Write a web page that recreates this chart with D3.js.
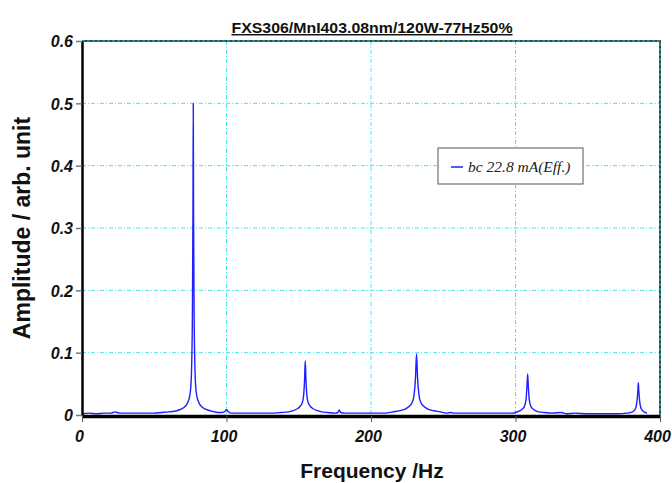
<!DOCTYPE html>
<html>
<head>
<meta charset="utf-8">
<script src="https://cdn.jsdelivr.net/npm/d3@7"></script>
<style>
  body { margin: 0; background: #fff; }
  svg { display: block; }
</style>
</head>
<body>
<div id="chart"></div>
<script>
var freqHz = [0, 5, 10, 15, 20, 23, 26, 30, 35, 40, 45, 50, 55, 60, 64, 67, 69, 71, 72.5, 73.5, 74.5, 75.3, 75.9, 76.4, 76.8,
  77.0, 77.2, 77.6, 78.1, 78.7, 79.5, 80.5, 81.5, 83, 85, 87, 90, 94, 97, 99, 100, 101, 103, 110, 120, 130, 138, 143, 146,
  149, 151, 152.5, 153.4, 154, 154.5, 155, 155.6, 156.5, 158, 160, 163, 166, 170, 175, 177, 178, 179, 182, 190, 200, 210,
  215, 220, 224, 226.5, 228.5, 229.8, 230.8, 231.5, 232.2, 233.2, 234.5, 236.5, 239, 243, 248, 252, 255, 258, 270, 280,
  290, 298, 301, 304, 306, 307.3, 307.9, 308.4, 308.9, 309.5, 310.8, 313, 316, 320, 325, 332, 335, 341, 350, 360, 370,
  377, 381, 383, 384.2, 384.7, 385.0, 385.3, 385.8, 387, 389, 391];
var amplitude = [0.002, 0.003, 0.002, 0.003, 0.003, 0.005, 0.003, 0.003, 0.003, 0.003, 0.003, 0.003, 0.004, 0.005, 0.006,
  0.008, 0.010, 0.013, 0.017, 0.022, 0.030, 0.045, 0.08, 0.16, 0.33,
  0.50, 0.33, 0.16, 0.08, 0.045, 0.030, 0.022, 0.017, 0.013, 0.010, 0.008, 0.006, 0.004, 0.004, 0.006, 0.009, 0.006, 0.003,
  0.003, 0.003, 0.003, 0.004, 0.005, 0.007,
  0.010, 0.014, 0.020, 0.032, 0.055, 0.087, 0.055, 0.032, 0.020, 0.014, 0.010, 0.007, 0.005, 0.004, 0.003, 0.004, 0.008,
  0.004, 0.003, 0.003, 0.003, 0.003,
  0.005, 0.007, 0.010, 0.014, 0.020, 0.032, 0.060, 0.098, 0.060, 0.032, 0.020, 0.014, 0.010, 0.007, 0.005, 0.003, 0.004,
  0.003, 0.003, 0.003,
  0.003, 0.003, 0.005, 0.008, 0.013, 0.025, 0.045, 0.066, 0.045, 0.025, 0.013, 0.008, 0.005, 0.004, 0.003, 0.004, 0.002,
  0.003, 0.002, 0.002, 0.002,
  0.003, 0.005, 0.010, 0.025, 0.040, 0.052, 0.040, 0.025, 0.010, 0.005, 0.003];
var xTicks = [0, 100, 200, 300, 400];
var yTicks = [0, 0.1, 0.2, 0.3, 0.4, 0.5, 0.6];
var yTickLabels = ["0", "0.1", "0.2", "0.3", "0.4", "0.5", "0.6"];
var chartTitle = "FXS306/MnI403.08nm/120W-77Hz50%";
var legendLabel = "bc 22.8 mA(Eff.)";

var width = 672, height = 483;
var margin = {top: 41, right: 12, bottom: 68, left: 82};
var w = width - margin.left - margin.right,
    h = height - margin.top - margin.bottom;

var svg = d3.select("#chart").append("svg")
  .attr("width", width)
  .attr("height", height);

var g = svg.append("g")
  .attr("transform", "translate(" + margin.left + "," + margin.top + ")");

var x = d3.scaleLinear().domain([0, 400]).range([0, w]),
    y = d3.scaleLinear().domain([0, 0.6]).range([h, 0]);

// grid
var gridColor = "#3ee6f2";
g.selectAll(".vgrid").data(xTicks.slice(1, -1)).enter().append("line")
  .attr("x1", function (d) { return x(d); }).attr("x2", function (d) { return x(d); })
  .attr("y1", 0).attr("y2", h)
  .attr("stroke", gridColor).attr("stroke-width", 1).attr("stroke-dasharray", "4,2,1,2");
g.selectAll(".hgrid").data(yTicks.slice(1, -1)).enter().append("line")
  .attr("x1", 0).attr("x2", w)
  .attr("y1", function (d) { return y(d); }).attr("y2", function (d) { return y(d); })
  .attr("stroke", gridColor).attr("stroke-width", 1).attr("stroke-dasharray", "4,2,1,2");

// top and right frame
g.append("path")
  .attr("d", "M0,0H" + w + "V" + h)
  .attr("fill", "none").attr("stroke", "#2b4a4a").attr("stroke-width", 2);
g.append("path")
  .attr("d", "M0,0H" + w + "V" + h)
  .attr("fill", "none").attr("stroke", "#2ec4c4").attr("stroke-width", 1).attr("stroke-dasharray", "3,2");

// legend
var lg = g.append("g").attr("transform", "translate(" + (438 - margin.left) + "," + (148 - margin.top) + ")");
lg.append("rect").attr("width", 145).attr("height", 36)
  .attr("fill", "#fff").attr("stroke", "#555").attr("stroke-width", 1);
lg.append("line").attr("x1", 13).attr("x2", 25).attr("y1", 19).attr("y2", 19)
  .attr("stroke", "#1f1fff").attr("stroke-width", 1.5);
lg.append("text").attr("x", 30).attr("y", 24)
  .style("font", "italic 15.5px 'Liberation Serif', 'Times New Roman', serif")
  .attr("fill", "#222")
  .text(legendLabel);

// series
var data = freqHz.map(function (f, i) { return {f: f, a: amplitude[i]}; });
var line = d3.line()
  .curve(d3.curveMonotoneX)
  .x(function (d) { return x(d.f); })
  .y(function (d) { return y(d.a); });
g.append("path")
  .datum(data)
  .attr("fill", "none")
  .attr("stroke", "#1f1fff")
  .attr("stroke-width", 1.4)
  .attr("stroke-linejoin", "round")
  .attr("d", line);

// axes
var tickFont = "italic bold 16px 'Liberation Sans', Arial, sans-serif";
var yAxis = g.append("g")
  .call(d3.axisLeft(y).tickValues(yTicks).tickSize(6).tickSizeOuter(0)
    .tickFormat(function (d, i) { return yTickLabels[i]; }));
yAxis.select(".domain").attr("stroke", "#000").attr("stroke-width", 2.5);
yAxis.selectAll(".tick line").attr("stroke", "#777").attr("stroke-width", 1.5);
yAxis.selectAll(".tick text").style("font", tickFont).attr("fill", "#111").attr("x", -9).attr("dy", "0.36em");

var xAxis = g.append("g")
  .attr("transform", "translate(0," + (h + 1) + ")")
  .call(d3.axisBottom(x).tickValues(xTicks).tickSize(6).tickSizeOuter(0));
xAxis.select(".domain").attr("stroke", "#000").attr("stroke-width", 3.5);
xAxis.selectAll(".tick line").attr("stroke", "#555").attr("stroke-width", 1);
xAxis.selectAll(".tick text").style("font", tickFont).attr("fill", "#111").attr("y", 15).attr("dy", "0.71em").attr("dx", "-3");

// titles
svg.append("text")
  .attr("x", 372).attr("y", 33)
  .attr("text-anchor", "middle")
  .attr("textLength", 281).attr("lengthAdjust", "spacingAndGlyphs")
  .style("font", "bold 14.5px 'Liberation Sans', Arial, sans-serif")
  .style("text-decoration", "underline")
  .attr("fill", "#111")
  .text(chartTitle);

svg.append("text")
  .attr("transform", "translate(30,228) rotate(-90)")
  .attr("text-anchor", "middle")
  .style("font", "bold 23px 'Liberation Sans', Arial, sans-serif")
  .attr("fill", "#111")
  .text("Amplitude / arb. unit");

svg.append("text")
  .attr("x", 372).attr("y", 478)
  .attr("text-anchor", "middle")
  .style("font", "bold 21px 'Liberation Sans', Arial, sans-serif")
  .attr("fill", "#111")
  .text("Frequency /Hz");
</script>
</body>
</html>
